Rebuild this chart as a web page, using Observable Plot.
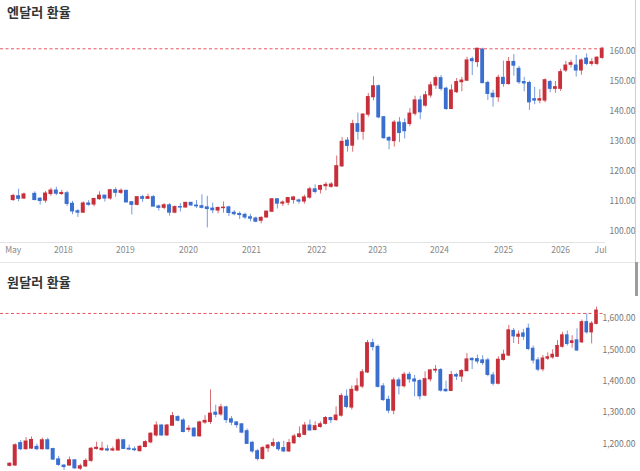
<!DOCTYPE html>
<html><head><meta charset="utf-8">
<script src="https://cdn.jsdelivr.net/npm/d3@7"></script>
<script src="https://cdn.jsdelivr.net/npm/@observablehq/plot@0.6"></script>
<style>
html,body{margin:0;padding:0;width:640px;height:471px;overflow:hidden;background:#fff;font-family:"Noto Sans CJK KR","Noto Sans",sans-serif;}
.title{position:absolute;left:7px;font-size:13px;font-weight:700;color:#333;letter-spacing:0.2px}
#t1{top:2px}
#t2{top:272px}
#c1{position:absolute;left:0;top:25px}
#c2{position:absolute;left:0;top:290px}
#sep{position:absolute;left:0;top:262px;width:640px;height:1px;background:#e8e8e8}
#scroll{position:absolute;left:635px;top:0;width:1px;height:262px;background:#cfcfcf}
#thumb{position:absolute;left:635px;top:262px;width:3px;height:34px;background:#9c9c9c}
</style></head>
<body>
<div id="t1" class="title">엔달러 환율</div>
<div id="c1"></div>
<div id="sep"></div>
<div id="t2" class="title">원달러 환율</div>
<div id="c2"></div>
<div id="scroll"></div><div id="thumb"></div>
<script>
// ---------- JPY per USD, monthly candles, Mar 2017 .. Jun 2026 (null = no candle) ----------
const jpyOpen = [110.5,111.7,111.0,null,112.5,110.9,110.3,112.5,113.6,112.5,
112.7,109.2,106.7,106.3,109.3,109.0,110.8,111.9,111.0,113.7,
112.9,113.5,109.7,108.9,111.4,110.9,111.4,108.3,107.9,108.7,
106.3,108.1,108.0,109.5,108.6,108.4,108.0,107.6,107.0,107.8,
108.0,106.2,105.8,105.5,104.7,104.3,103.6,104.7,106.6,110.7,
109.3,109.6,110.5,110.3,110.0,111.3,114.0,113.9,115.1,114.9,
115.0,121.7,130.2,128.6,135.7,133.2,138.9,144.7,148.3,138.0,
131.1,130.1,136.2,136.0,135.8,139.2,143.6,141.9,145.3,148.6,
151.0,147.5,140.8,146.4,149.7,150.2,157.3,156.4,160.5,149.4,
145.8,144.7,151.1,149.1,156.4,154.1,149.7,149.4,144.0,143.6,
143.6,149.7,147.5,147.5,153.6,155.5,155.2,153.6,157.5,155.8,
155.8,157.8];
const jpyHigh = [112.4,114.1,112.8,null,113.2,111.2,113.3,114.4,114.7,113.7,
113.4,110.0,107.3,109.9,110.3,111.0,113.2,112.1,114.0,114.5,
114.2,113.7,110.0,111.5,112.1,112.4,112.0,108.8,109.3,109.3,
108.5,109.3,109.7,109.7,110.3,112.2,111.7,109.4,108.1,109.8,
108.4,107.0,106.5,106.1,105.7,104.8,104.9,106.7,110.9,110.9,
110.2,111.1,111.7,110.8,112.1,114.7,115.5,115.4,116.3,116.3,
125.1,131.3,131.3,137.0,139.4,139.1,145.9,151.5,148.8,138.2,
131.6,136.9,137.9,137.5,140.9,145.0,145.0,146.6,149.7,151.7,
151.9,148.0,148.8,150.9,151.3,158.0,158.0,160.9,161.0,150.0,
147.0,152.0,156.7,157.9,158.9,155.0,151.3,150.0,148.0,147.2,
150.8,150.3,149.9,154.0,156.6,157.0,158.6,157.4,159.1,157.5,
158.2,161.3];
const jpyLow = [110.0,109.9,110.6,null,110.2,108.8,109.4,111.7,111.9,112.0,
108.3,105.6,104.7,106.0,108.4,108.2,110.3,109.8,110.4,111.4,
112.3,109.6,105.5,108.5,109.7,110.8,108.3,106.8,107.2,105.1,
105.9,106.5,107.9,108.4,107.7,107.5,101.2,105.9,105.9,106.1,
105.0,105.2,104.0,104.0,103.2,102.9,102.6,104.4,106.4,107.5,
108.3,108.6,109.1,109.1,109.1,110.8,112.5,112.5,113.5,114.4,
114.7,121.3,126.4,126.4,130.4,130.4,138.0,143.5,137.5,130.6,
127.2,128.1,129.6,130.8,134.9,138.4,137.2,141.4,144.4,147.3,
146.7,140.3,140.8,145.9,146.5,150.0,151.9,154.6,149.2,143.6,
141.4,143.0,148.0,148.7,151.7,149.0,146.5,140.3,142.2,142.5,
142.8,146.2,146.0,146.6,152.9,154.4,151.4,152.0,155.2,155.0,
155.2,157.3];
const jpyClose = [111.8,110.9,112.3,null,110.5,110.2,112.6,113.6,112.6,112.8,
109.2,106.7,106.3,109.3,108.9,110.8,111.9,111.0,113.7,112.9,
113.5,109.7,108.9,111.4,110.9,111.4,108.3,107.9,108.7,106.3,
108.1,108.0,109.5,108.7,108.4,107.9,107.5,107.1,107.8,107.9,
106.2,105.8,105.5,104.7,104.3,103.3,104.5,106.6,110.7,109.3,
109.6,111.1,111.3,110.0,111.3,114.0,113.2,115.1,115.5,115.6,
121.7,129.8,128.5,135.7,133.2,138.9,144.7,148.3,138.0,131.1,
130.3,136.2,132.8,133.4,139.2,143.6,139.7,145.3,148.6,151.0,
147.5,140.8,146.9,149.7,150.2,156.9,156.7,160.8,149.4,145.8,
144.7,151.1,149.1,156.4,155.2,149.7,149.3,143.0,143.6,144.0,
150.3,147.5,148.0,153.0,155.2,156.0,153.6,156.9,155.8,156.3,
157.8,160.8];
const jpyRef = 160.8;
const jpyTicks = [100,110,120,130,140,150,160];

// ---------- KRW per USD, monthly candles, Feb 2017 .. Jun 2026 ----------
const krwOpen = [1130,1131,1202,1183,1185,1190,1183,1211,1183,1150,
1130,1131,1147,1121,1128,1146,1184,1180,1182,1179,
1179,1211,1184,1182,1177,1190,1205,1227,1258,1227,
1258,1285,1274,1245,1248,1224,1268,1270,1299,1294,
1316,1278,1268,1262,1240,1203,1176,1152,1186,1194,
1202,1186,1176,1202,1222,1229,1258,1244,1254,1264,
1282,1276,1290,1350,1316,1370,1383,1428,1521,1509,
1383,1340,1306,1402,1384,1420,1405,1400,1354,1406,
1434,1435,1372,1369,1419,1415,1432,1471,1470,1466,
1466,1418,1392,1468,1482,1560,1542,1552,1567,1503,
1466,1438,1472,1476,1478,1510,1546,1522,1530,1524,
1588,1556,1583];
const krwHigh = [1140,1200,1210,1220,1222,1199,1218,1218,1186,1160,
1134,1158,1150,1135,1152,1188,1205,1205,1195,1190,
1216,1214,1196,1190,1195,1210,1235,1270,1262,1262,
1300,1290,1280,1258,1252,1272,1290,1372,1323,1326,
1320,1287,1270,1264,1247,1207,1182,1192,1198,1216,
1207,1208,1214,1230,1254,1268,1276,1270,1270,1287,
1285,1318,1360,1372,1385,1408,1437,1530,1534,1515,
1392,1352,1410,1410,1428,1428,1418,1405,1430,1436,
1450,1440,1400,1431,1425,1437,1488,1474,1483,1481,
1473,1428,1478,1499,1578,1568,1560,1565,1582,1512,
1475,1482,1490,1500,1530,1556,1560,1545,1567,1595,
1615,1590,1636];
const krwLow = [1126,1128,1178,1180,1182,1178,1180,1180,1147,1128,
1115,1128,1118,1115,1124,1140,1180,1176,1175,1175,
1177,1182,1178,1175,1173,1187,1200,1222,1224,1224,
1256,1270,1235,1236,1222,1222,1262,1262,1283,1288,
1265,1258,1250,1232,1198,1170,1145,1148,1172,1188,
1176,1172,1172,1198,1218,1226,1240,1242,1250,1260,
1265,1272,1285,1312,1308,1365,1376,1424,1496,1378,
1335,1296,1293,1356,1378,1393,1350,1340,1350,1397,
1425,1365,1365,1367,1402,1396,1432,1437,1454,1450,
1414,1385,1388,1464,1478,1520,1517,1530,1497,1455,
1430,1430,1466,1470,1475,1505,1512,1505,1495,1520,
1550,1519,1580];
const krwClose = [1136,1195,1183,1207,1212,1183,1211,1183,1150,1133,
1126,1147,1122,1128,1145,1184,1187,1184,1179,1182,
1211,1184,1182,1180,1190,1205,1232,1258,1227,1258,
1288,1274,1238,1248,1224,1268,1273,1296,1293,1316,
1276,1268,1260,1236,1200,1176,1152,1186,1194,1202,
1183,1176,1202,1223,1230,1258,1243,1256,1262,1282,
1276,1290,1352,1318,1372,1383,1428,1521,1509,1382,
1340,1306,1402,1384,1420,1406,1399,1352,1406,1434,
1436,1370,1368,1419,1415,1432,1469,1467,1463,1458,
1420,1392,1468,1484,1562,1543,1548,1542,1503,1466,
1437,1472,1476,1484,1512,1546,1519,1527,1498,1588,
1556,1583,1625];
const krwRef = 1616;
const krwTicks = [1200,1300,1400,1500,1600];

// ---------- x-axis tick labels (positions in month-index units, Mar 2017 = 0) ----------
const xTickLabels = ["May","2018","2019","2020","2021","2022","2023","2024","2025","2026","Jul"];
const xTickAt = [0, 9.3, 20.8, 32.5, 44.2, 56.3, 67.8, 79.7, 92.0, 103.0, 110.7];

const UP = "#c7303a", DOWN = "#3a6fd0", REF = "#e8424f";

function rows(start, o, h, l, c) {
  const months = d3.utcMonth.range(start, d3.utcMonth.offset(start, o.length));
  return months.map((m, k) => ({
    i: (m.getUTCFullYear() - 2017) * 12 + m.getUTCMonth() - 2,
    o: o[k], h: h[k], l: l[k], c: c[k]
  })).filter(d => d.o != null);
}
const jpy = rows(new Date(Date.UTC(2017, 2, 1)), jpyOpen, jpyHigh, jpyLow, jpyClose);
const krw = rows(new Date(Date.UTC(2017, 1, 1)), krwOpen, krwHigh, krwLow, krwClose);

function candles(data) {
  const col = d => d.c >= d.o ? UP : DOWN;
  return [
    Plot.ruleX(data, {x: "i", y1: "l", y2: "h", stroke: col, strokeWidth: 1, strokeOpacity: 0.7}),
    Plot.rect(data, {x1: d => d.i - 0.37, x2: d => d.i + 0.37, y1: "o", y2: "c", fill: col, insetTop: -0.6, insetBottom: -0.6})
  ];
}
const refLine = v => Plot.ruleY([v], {stroke: REF, strokeOpacity: 0.9, strokeDasharray: "3 2.5", strokeWidth: 1});
const axisStyle = {fontSize: "8.5px", fontFamily: "'Noto Sans CJK KR','Noto Sans',sans-serif", color: "#777", background: "transparent", overflow: "visible"};

const jpyDomain = [96.34, 168.55];
const p1 = Plot.plot({
  width: 640, height: 235,
  marginLeft: 0, marginRight: 35, marginTop: 0, marginBottom: 18,
  style: axisStyle,
  color: {type: "identity"},
  x: {type: "linear", domain: [0, 62, 111], range: [12.7, 347, 601.7], axis: null},
  y: {type: "linear", domain: jpyDomain, axis: null},
  marks: [
    Plot.ruleY([jpyDomain[0]], {stroke: "#e4e4e4"}),
    ...candles(jpy),
    refLine(jpyRef),
    Plot.axisY({anchor: "right", label: null, ticks: jpyTicks, tickFormat: d3.format(".2f"), tickSize: 0, tickPadding: 0, textAnchor: "end", dx: 30, fill: "#777"}),
    Plot.axisX({anchor: "bottom", label: null, ticks: xTickAt, tickFormat: d => xTickLabels[xTickAt.indexOf(d)], tickSize: 0, tickPadding: 4, fill: "#888"})
  ]
});
document.getElementById("c1").append(p1);

const krwDomain = [1082.9, 1689.3];
const p2 = Plot.plot({
  width: 640, height: 190,
  marginLeft: 0, marginRight: 35, marginTop: 0, marginBottom: 0,
  style: axisStyle,
  color: {type: "identity"},
  x: {type: "linear", domain: [-1, 36, 93, 111], range: [9.3, 210, 508.3, 596], axis: null},
  y: {type: "linear", domain: krwDomain, axis: null},
  marks: [
    ...candles(krw),
    refLine(krwRef),
    Plot.axisY({anchor: "right", label: null, ticks: krwTicks, tickFormat: d3.format(",.2f"), tickSize: 0, tickPadding: 0, textAnchor: "end", dx: 30, fill: "#777"})
  ]
});
document.getElementById("c2").append(p2);
</script>
</body></html>
